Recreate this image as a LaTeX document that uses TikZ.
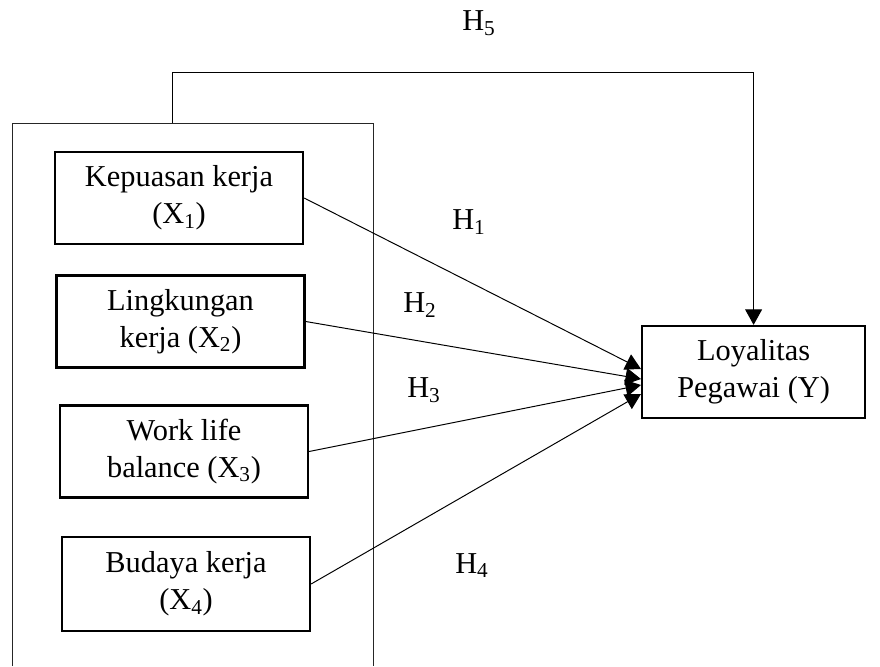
\documentclass[tikz,border=0pt]{standalone}
\usepackage{fontspec}
\setmainfont{Liberation Serif}
\usetikzlibrary{arrows.meta}

\begin{document}
\begin{tikzpicture}[
      >={Triangle[length=11pt,width=12pt]},
      varbox/.style={draw=black,line width=1.6pt,align=center,
        minimum width=6.2cm,minimum height=2.3cm,inner sep=2pt,
        font=\fontsize{21.6}{26.5}\selectfont},
      hyp/.style={font=\fontsize{21.6}{26.5}\selectfont,
        anchor=base west,inner sep=0pt},
      effect/.style={draw=black,line width=0.7pt,->},
      frame/.style={draw=black!85,line width=0.7pt}
    ]
    \useasboundingbox (0,0) rectangle (22,16.65);
    % open frame round the independent variables
    \draw[frame] (0.3,0) -- (0.3,13.575) -- (9.325,13.575) -- (9.325,0);
    \coordinate (ftop) at (4.3,13.575);
    \node[varbox] (X1) at (4.475,11.7)
      {Kepuasan kerja\\ (X\textsubscript{1})};
    \node[varbox] (X2) at (4.5125,8.6125)
      {Lingkungan\\ kerja (X\textsubscript{2})};
    \node[varbox] (X3) at (4.6,5.3625)
      {Work life\\ balance (X\textsubscript{3})};
    \node[varbox,minimum height=2.35cm] (X4) at (4.65,2.05)
      {Budaya kerja\\ (X\textsubscript{4})};
    \node[varbox,minimum width=5.575cm] (Y) at (18.84,7.35)
      {Loyalitas\\ Pegawai (Y)};
    % partial effects
    \draw[effect] (X1.east) -- ([yshift=0.075cm]Y.west);
    \draw[effect] (X2.east) -- ([yshift=-0.175cm]Y.west);
    \draw[effect] (X3.east) -- ([yshift=-0.325cm]Y.west);
    \draw[effect] (X4.east) -- ([yshift=-0.55cm]Y.west);
    % joint effect from the whole frame
    \draw[effect] (ftop) -- ++(0,1.275) -| (Y.north);
    \node[hyp] (h1) at (11.3,10.9) {H\textsubscript{1}};
    \node[hyp] (h2) at (10.075,8.825) {H\textsubscript{2}};
    \node[hyp] (h3) at (10.175,6.7) {H\textsubscript{3}};
    \node[hyp] (h4) at (11.375,2.325) {H\textsubscript{4}};
    \node[hyp] (h5) at (11.55,15.875) {H\textsubscript{5}};
  \end{tikzpicture}
\end{document}
